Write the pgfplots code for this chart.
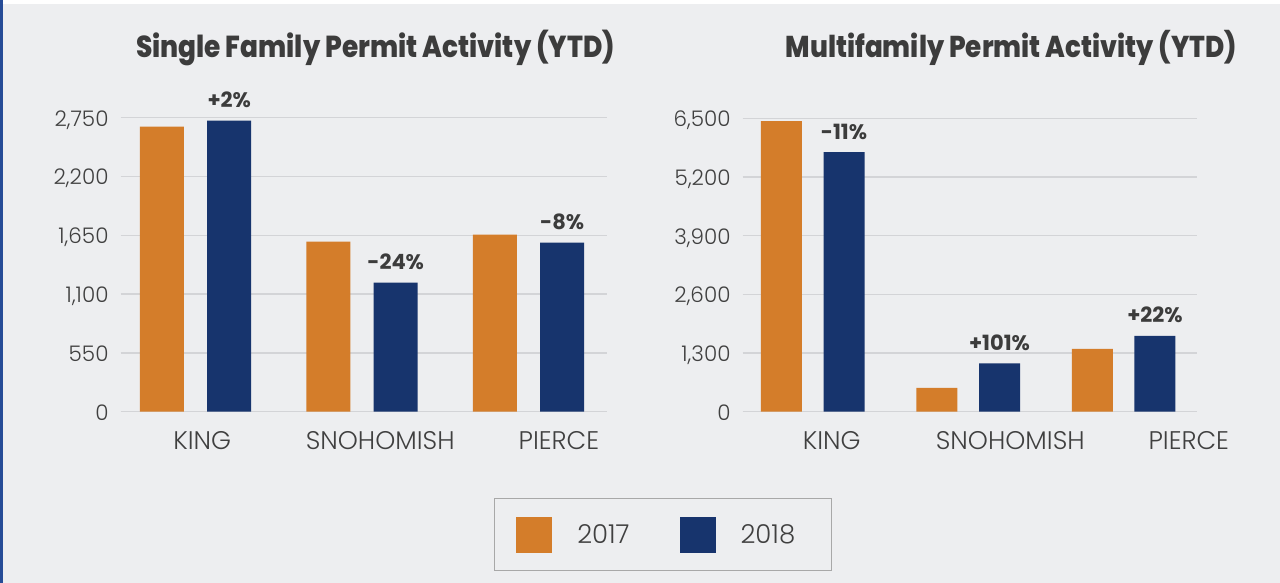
\documentclass[border=0pt]{standalone}
\usepackage{fontspec}
\setmainfont{Poppins}
\newfontfamily\lightfont{Poppins Light}
\newfontfamily\heavyfont{Poppins ExtraBold}
\usepackage{pgfplots}
\pgfplotsset{compat=1.18}
\definecolor{bgc}{HTML}{EDEEF0}
\definecolor{edgec}{HTML}{264C97}
\definecolor{orangec}{HTML}{D47D2A}
\definecolor{navyc}{HTML}{17346D}
\definecolor{gridc}{HTML}{D3D4D7}
\definecolor{tickc}{HTML}{404040}
\definecolor{labelc}{HTML}{3C3C3C}
\definecolor{legc}{HTML}{A8A8A8}
\pgfplotsset{
  mybar/.style={
    scale only axis, ybar, ymin=0, enlargelimits=false, clip=false,
    xmin=-0.45, xmax=2.47,
    axis line style={draw=none}, major tick length=0pt,
    ymajorgrids, grid style={gridc, line width=1.3pt},
    xticklabels={KING,SNOHOMISH,PIERCE},
    tick label style={text=tickc, font=\lightfont\fontsize{21.5}{21.5}\selectfont},
    xticklabel style={font=\lightfont\fontsize{25.5}{25.5}\selectfont, anchor=base, yshift=-38.3pt, inner sep=0pt},
    yticklabel style={anchor=base east, inner sep=0pt, xshift=-12pt, yshift=-8.5pt},
    /pgf/number format/fixed, /pgf/number format/precision=0,
    /pgf/number format/1000 sep={,}, /pgf/number format/assume math mode=true,
    scaled y ticks=false,
    nodes near coords style={font=\bfseries\fontsize{21}{21}\selectfont, text=labelc, anchor=base, inner sep=0pt, yshift=13pt},
  }
}
\begin{document}
\begin{tikzpicture}[x=1pt,y=1pt]
\fill[bgc] (0,0) rectangle (1280,583);
\fill[white] (0,579) rectangle (1280,583);
\fill[edgec] (0,0) rectangle (3,583);

\begin{axis}[mybar,
  at={(120.7pt,171.3pt)}, anchor=south west,
  width=486pt, height=294pt,
  ymax=2750, ytick={0,550,1100,1650,2200,2750},
  xtick={0.04,1.109,2.183},
  ybar=23.3pt, bar width=44pt,
  legend style={at={(1.1154,-0.4184)}, anchor=center, draw=legc, line width=1pt, fill=none,
    font=\lightfont\fontsize{26}{26}\selectfont, text=tickc,
    inner xsep=22pt, inner ysep=18pt,
    /tikz/every odd column/.append style={column sep=23pt},
    /tikz/every even column/.append style={column sep=36pt}},
  legend columns=2,
]
\addplot[fill=orangec, draw=none, legend image code/.code={\fill[orangec] (0pt,-18pt) rectangle (36pt,18pt);}]
  coordinates {(0,2666) (1,1590) (2,1656)};
\addlegendentry{2017\rule{12pt}{0pt}}
\addplot[fill=navyc, draw=none, nodes near coords, point meta=explicit symbolic,
  legend image code/.code={\fill[navyc] (0pt,-18pt) rectangle (36pt,18pt);}]
  table[meta=label] {
x y label
0 2722 {+2\%}
1 1207 {-24\%}
2 1581 {-8\%}
};
\addlegendentry{2018\rule{12pt}{0pt}}
\end{axis}

\begin{axis}[mybar,
  at={(742.7pt,171.3pt)}, anchor=south west,
  width=454pt, height=293.4pt,
  ymax=6500, ytick={0,1300,2600,3900,5200,6500},
  xtick={0.123,1.271,2.419},
  ybar=21.7pt, bar width=41pt,
]
\addplot[fill=orangec, draw=none] coordinates {(0,6440) (1,525) (2,1389)};
\addplot[fill=navyc, draw=none, nodes near coords, point meta=explicit symbolic]
  table[meta=label] {
x y label
0 5753 {-11\%}
1 1070 {+101\%}
2 1677 {+22\%}
};
\end{axis}

\node[anchor=base, inner sep=0pt, text=labelc] at (375.5,525)
  {\scalebox{1}[1.15]{\resizebox{479pt}{!}{\heavyfont\fontsize{26}{26}\selectfont Single Family Permit Activity (YTD)}}};
\node[anchor=base, inner sep=0pt, text=labelc] at (1011.3,525)
  {\scalebox{1}[1.15]{\resizebox{451pt}{!}{\heavyfont\fontsize{26}{26}\selectfont Multifamily Permit Activity (YTD)}}};

\pgfresetboundingbox
\useasboundingbox (0,0) rectangle (1280,583);
\end{tikzpicture}
\end{document}
